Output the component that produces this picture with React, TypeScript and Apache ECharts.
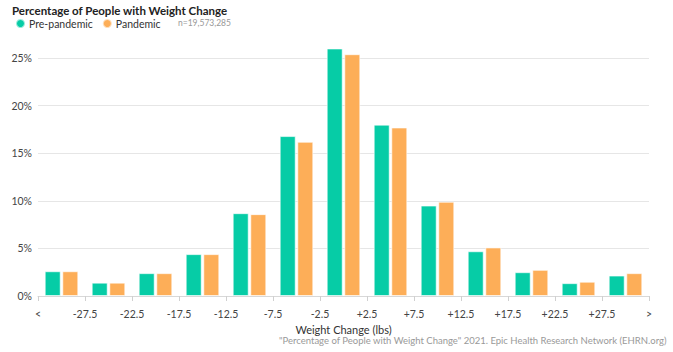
import React, { useEffect, useRef } from "react";
import * as echarts from "echarts";

const categories = ["<-27.5", "-27.5", "-22.5", "-17.5", "-12.5", "-7.5", "-2.5", "+2.5", "+7.5", "+12.5", "+17.5", "+22.5", ">+27.5"];
const boundaryLabels = ["<", "-27.5", "-22.5", "-17.5", "-12.5", "-7.5", "-2.5", "+2.5", "+7.5", "+12.5", "+17.5", "+22.5", "+27.5", ">"];
const prePandemic = [2.6, 1.4, 2.4, 4.4, 8.7, 16.8, 26.0, 18.0, 9.5, 4.7, 2.5, 1.35, 2.15];
const pandemic = [2.6, 1.4, 2.4, 4.4, 8.6, 16.2, 25.4, 17.7, 9.9, 5.1, 2.75, 1.5, 2.4];
const yTicks = [0, 5, 10, 15, 20, 25];

const TEAL = "#06cca6";
const ORANGE = "#fdae58";
const FONT = "Lato, 'Open Sans', sans-serif";

export default function App() {
  const ref = useRef<HTMLDivElement>(null);
  useEffect(() => {
    if (!ref.current) return;
    const chart = echarts.init(ref.current, null, { renderer: "svg" });
    chart.setOption({
      animation: false,
      textStyle: { fontFamily: FONT },
      title: {
        text: "Percentage of People with Weight Change",
        left: 12,
        top: 3,
        padding: 0,
        textStyle: { fontSize: 11.5, fontWeight: "bold", color: "#222", fontFamily: FONT, lineHeight: 14 },
      },
      legend: {
        data: ["Pre-pandemic", "Pandemic"],
        left: 15,
        top: 18,
        padding: 0,
        icon: "circle",
        itemWidth: 9,
        itemHeight: 9,
        itemGap: 9,
        textStyle: { fontSize: 10.5, color: "#333", fontFamily: FONT, padding: [0, 0, 0, -1], lineHeight: 10 },
      },
      graphic: [
        {
          type: "text",
          left: 178,
          top: 18,
          style: { text: "n=19,573,285", fontSize: 8.5, fill: "#999", fontFamily: FONT },
        },
        {
          type: "text",
          right: 6,
          top: 335,
          style: {
            text: "\"Percentage of People with Weight Change\" 2021. Epic Health Research Network (EHRN.org)",
            fontSize: 9.5,
            fill: "#999",
            fontFamily: FONT,
          },
        },
      ],
      grid: { left: 38, right: 24, top: 58, bottom: 56 },
      xAxis: [
        {
          type: "category",
          data: categories,
          show: false,
        },
        {
          type: "value",
          position: "bottom",
          min: 0,
          max: boundaryLabels.length - 1,
          interval: 1,
          axisLine: { show: true, lineStyle: { color: "#d8d8d8" } },
          axisTick: { show: true, length: 5, lineStyle: { color: "#d0d0d0" } },
          splitLine: { show: false },
          axisLabel: {
            formatter: (v: number) => boundaryLabels[Math.round(v)] ?? "",
            color: "#444",
            fontSize: 10.5,
            margin: 12,
            showMinLabel: true,
            showMaxLabel: true,
          },
          name: "Weight Change (lbs)",
          nameLocation: "middle",
          nameGap: 24,
          nameTextStyle: { color: "#333", fontSize: 11, fontFamily: FONT },
        },
      ],
      yAxis: {
        type: "value",
        min: yTicks[0],
        max: yTicks[yTicks.length - 1],
        interval: 5,
        axisLine: { show: false },
        axisTick: { show: false },
        splitLine: { lineStyle: { color: "#e6e6e6" } },
        axisLabel: { formatter: "{value}%", color: "#444", fontSize: 10.5, margin: 6 },
      },
      series: [
        {
          name: "Pre-pandemic",
          type: "bar",
          xAxisIndex: 0,
          data: prePandemic,
          barWidth: 16,
          barGap: "10%",
          clip: false,
          itemStyle: { color: TEAL, borderColor: "rgba(255,255,255,0.6)", borderWidth: 1 },
        },
        {
          name: "Pandemic",
          type: "bar",
          xAxisIndex: 0,
          data: pandemic,
          barWidth: 16,
          barGap: "10%",
          clip: false,
          itemStyle: { color: ORANGE, borderColor: "rgba(255,255,255,0.6)", borderWidth: 1 },
        },
      ],
    });
    return () => chart.dispose();
  }, []);
  return <div ref={ref} style={{ width: 673, height: 352, position: "absolute", left: 0, top: 0 }} />;
}
